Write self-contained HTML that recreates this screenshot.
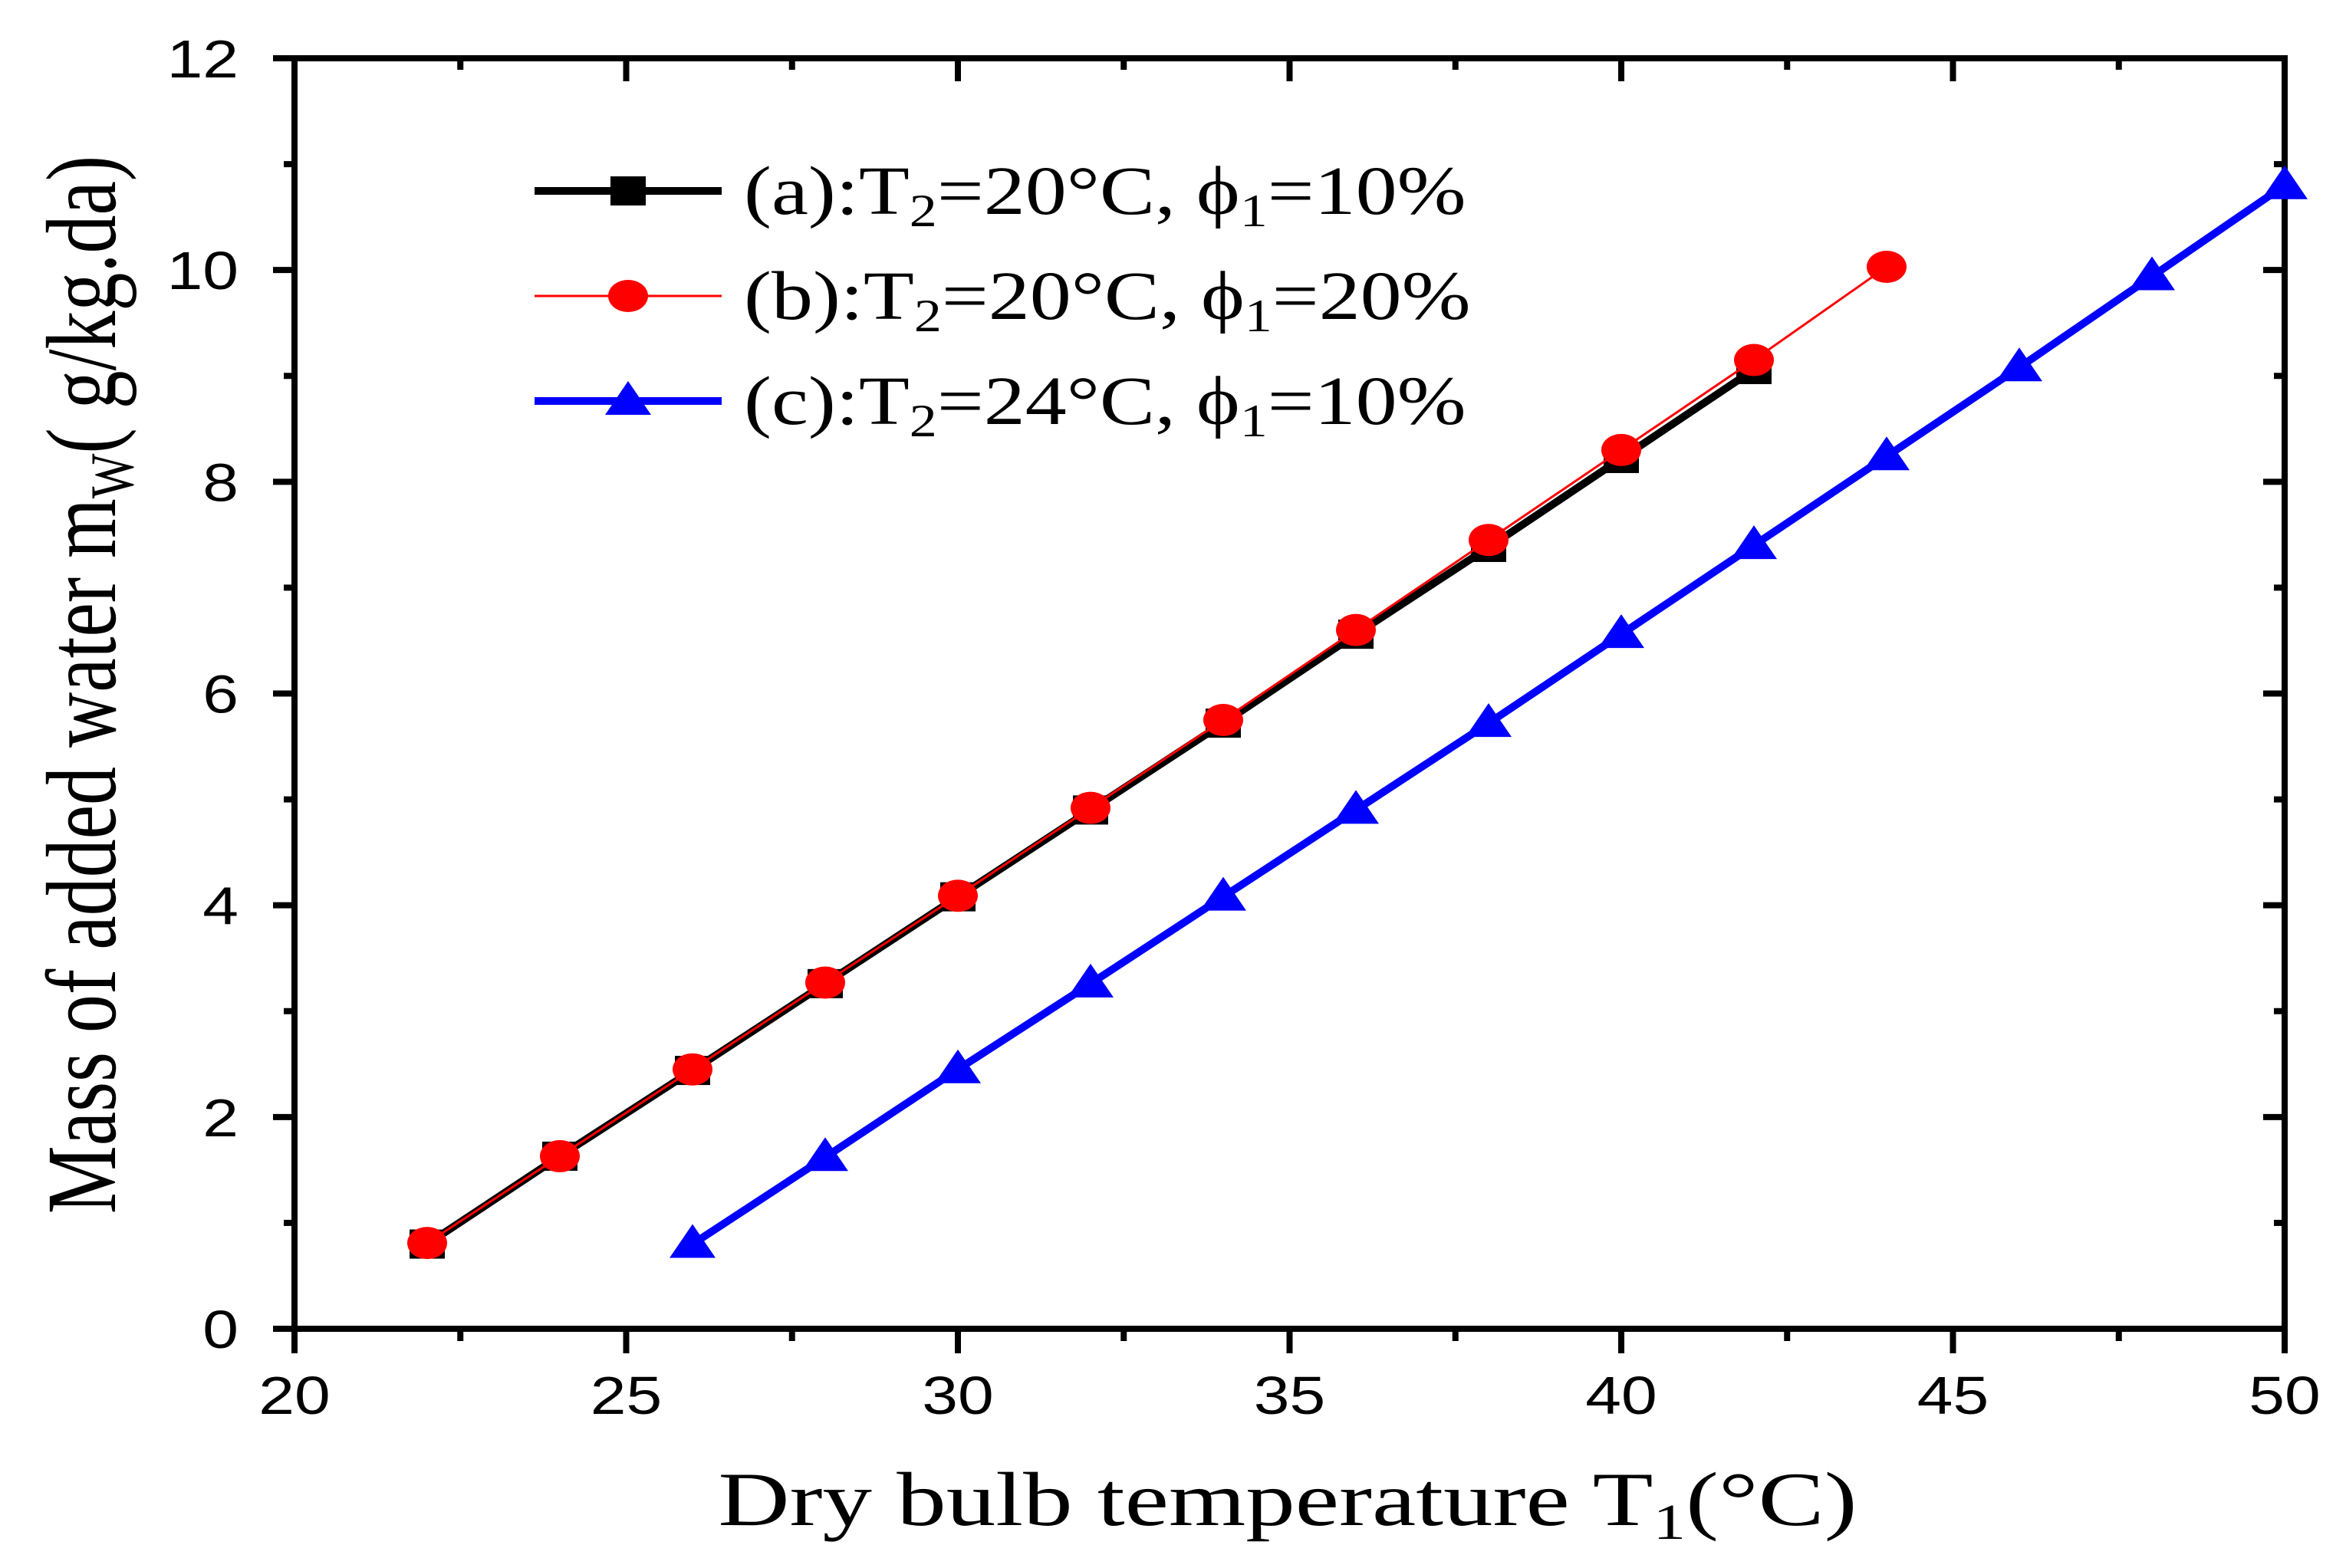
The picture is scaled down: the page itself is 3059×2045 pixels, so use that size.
<!DOCTYPE html>
<html><head><meta charset="utf-8"><style>
html,body{margin:0;padding:0;background:#fff;}
svg{display:block;}
</style></head><body>
<svg id="chart" width="3059" height="2045" viewBox="0 0 3059 2045" xmlns="http://www.w3.org/2000/svg">
<g id="plot"></g>
<text transform="translate(1679,1989) scale(1.29,1)" text-anchor="middle" font-family="Liberation Serif, serif" font-size="100">Dry bulb temperature T<tspan font-size="66" dy="18">1</tspan><tspan dy="-18">(°C)</tspan></text>
<text transform="translate(150,893) scale(1.3,1) rotate(-90)" text-anchor="middle" font-family="Liberation Serif, serif" font-size="100">Mass of added water m<tspan font-size="62" dy="18">W</tspan><tspan dy="-18">( g/kg.da)</tspan></text>
</svg>
<script>
const xTicks=[20,25,30,35,40,45,50];
const yTicks=[0,2,4,6,8,10,12];
const xA=[22,24,26,28,30,32,34,36,38,40,42];
const yA=[0.80,1.63,2.44,3.26,4.08,4.90,5.72,6.56,7.38,8.22,9.06];
const xB=[22,24,26,28,30,32,34,36,38,40,42,44];
const yB=[0.81,1.63,2.45,3.27,4.09,4.92,5.75,6.60,7.45,8.30,9.15,10.03];
const xC=[26,28,30,32,34,36,38,40,42,44,46,48,50];
const yC=[0.80,1.62,2.45,3.26,4.08,4.90,5.72,6.56,7.40,8.24,9.08,9.94,10.80];
const legendLabels=["(a):T","(b):T","(c):T"];

const L=384,R=2979,T=76,B=1733;
const sx=v=>L+(v-20)/(50-20)*(R-L);
const sy=v=>B-(v-0)/(12-0)*(B-T);
const NS="http://www.w3.org/2000/svg";
const g=document.getElementById('plot');
function mk(tag,attrs,parent){const e=document.createElementNS(NS,tag);for(const k in attrs)e.setAttribute(k,attrs[k]);(parent||g).appendChild(e);return e;}

xTicks.forEach((v,i)=>{
  const x=sx(v);
  const t1=mk('line',{x1:x,y1:B,x2:x,y2:B+32,stroke:'#000','stroke-width':8});
  
  
  const t2=mk('line',{x1:x,y1:T,x2:x,y2:T+30,stroke:'#000','stroke-width':8});
  
  
  const lb=mk('text',{transform:`translate(${x},1844) scale(1.2,1)`,'text-anchor':'middle','font-family':'Liberation Sans, sans-serif','font-size':70});
  lb.textContent=v;
  
  
  if(i<xTicks.length-1){const xm=sx(v+2.5);
    const m1=mk('line',{x1:xm,y1:B,x2:xm,y2:B+16,stroke:'#000','stroke-width':8});
    
    
    const m2=mk('line',{x1:xm,y1:T,x2:xm,y2:T+15,stroke:'#000','stroke-width':8});
    
    }
});
yTicks.forEach((v,i)=>{
  const y=sy(v);
  const t1=mk('line',{x1:L-28,y1:y,x2:L,y2:y,stroke:'#000','stroke-width':8});
  
  
  const t2=mk('line',{x1:R-28,y1:y,x2:R,y2:y,stroke:'#000','stroke-width':8});
  
  
  const lb=mk('text',{transform:`translate(311,${y+25}) scale(1.2,1)`,'text-anchor':'end','font-family':'Liberation Sans, sans-serif','font-size':70});
  lb.textContent=v;
  
  
  if(i<yTicks.length-1){const ym=sy(v+1);
    const m1=mk('line',{x1:L-14,y1:ym,x2:L,y2:ym,stroke:'#000','stroke-width':8});
    
    
    const m2=mk('line',{x1:R-14,y1:ym,x2:R,y2:ym,stroke:'#000','stroke-width':8});
    
    }
});
const frame=mk('rect',{x:L,y:T,width:R-L,height:B-T,fill:'none',stroke:'#000','stroke-width':8});



function marker(type,cx,cy,color,name){
  let e;
  if(type==='sq') e=mk('rect',{x:cx-23,y:cy-19,width:46,height:38,fill:color});
  else if(type==='ci') e=mk('ellipse',{cx:cx,cy:cy,rx:26,ry:21,fill:color});
  else e=mk('polygon',{points:`${cx},${cy-26} ${cx-30},${cy+18} ${cx+30},${cy+18}`,fill:color});
  
  
}
function series(xs,ys,color,w,type,name){
  const pts=xs.map((x,i)=>sx(x)+','+sy(ys[i])).join(' ');
  const pl=mk('polyline',{points:pts,fill:'none',stroke:color,'stroke-width':w,'stroke-linejoin':'round'});
  
  
  xs.forEach((x,i)=>marker(type,sx(x),sy(ys[i]),color,name+'-point'));
}
series(xA,yA,'#000',10,'sq','series-a');
series(xB,yB,'#f00',3,'ci','series-b');
series(xC,yC,'#00f',10,'tr','series-c');

const legY=[249,386,523];
const legCol=['#000','#f00','#00f'];
const legW=[10,3,10];
const legT=['sq','ci','tr'];
const legT2=['20','20','24'];
const legP=['10','20','10'];
legY.forEach((y,i)=>{
  const ln=mk('line',{x1:697,y1:y,x2:941,y2:y,stroke:legCol[i],'stroke-width':legW[i]});
  
  
  marker(legT[i],819,y,legCol[i],'legend-marker');
  const t=mk('text',{transform:`translate(970,${y+30}) scale(1.2,1)`,'font-family':'Liberation Serif, serif','font-size':90});
  t.innerHTML=legendLabels[i]+'<tspan font-size="60" dy="16">2</tspan><tspan dy="-16">='+legT2[i]+'°C, ϕ</tspan><tspan font-size="60" dy="16">1</tspan><tspan dy="-16">='+legP[i]+'%</tspan>';
  
  
});
</script>
</body></html>
